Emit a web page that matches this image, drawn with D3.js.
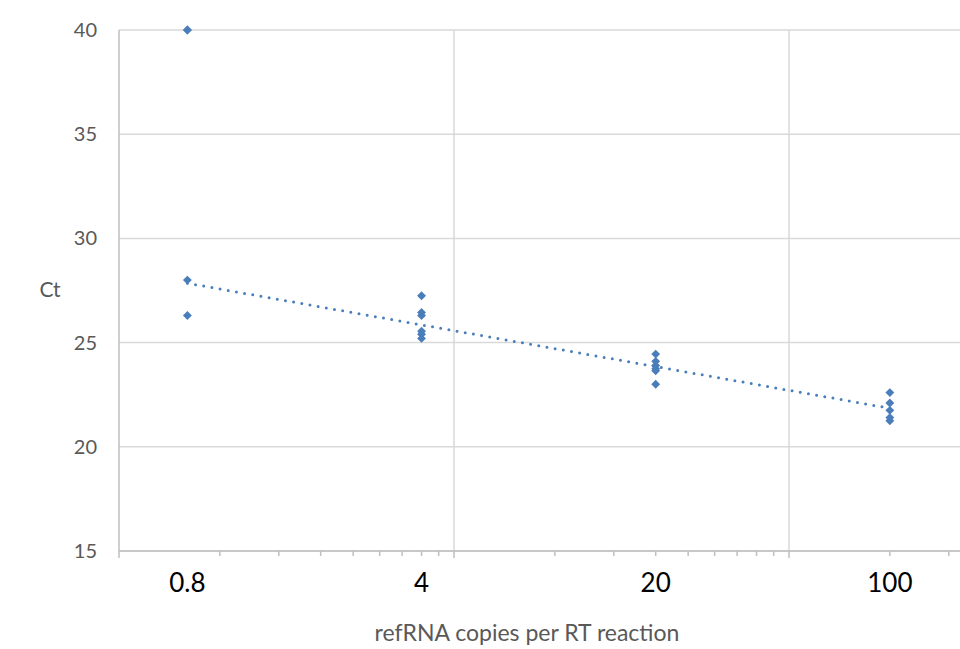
<!DOCTYPE html>
<html>
<head>
<meta charset="utf-8">
<script src="https://cdn.jsdelivr.net/npm/d3@7"></script>
<style>
  body { margin: 0; background: #fff; }
  svg { display: block; }
</style>
</head>
<body>
<script>
var width = 960;
var height = 649;

// refRNA copies per RT reaction and the Ct read for each replicate
var copies = [0.8, 0.8, 0.8, 0.8,
  4, 4, 4, 4, 4, 4,
  20, 20, 20, 20, 20, 20,
  100, 100, 100, 100, 100];
var ctValues = [40, 40, 28.0, 26.3,
  27.25, 26.45, 26.3, 25.55, 25.4, 25.2,
  24.45, 24.1, 23.9, 23.75, 23.65, 23.0,
  22.6, 22.1, 21.75, 21.4, 21.25];

// logarithmic trendline, end points
var trendX = [0.8, 100];
var trendY = [27.85, 21.85];

var xTickLabels = [0.8, 4, 20, 100];
var yTicks = [15, 20, 25, 30, 35, 40];
var majorX = [0.5, 5, 50, 500];
var minorX = [];
[0.5, 5, 50].forEach(function (b) {
  for (var k = 2; k <= 9; k++) minorX.push(b * k);
});

var color = "#4a7ebb";
var gridColor = "#d9d9d9";
var textColor = "#595959";
var font = "Lato, sans-serif";

var x = d3.scaleLog().domain([0.5, 500]).range([119, 119 + 3 * 335]);
var y = d3.scaleLinear().domain([15, 40]).range([551, 30]);

var svg = d3.select("body").append("svg")
  .attr("width", width)
  .attr("height", height);

// horizontal gridlines
svg.selectAll("line.hgrid")
  .data(yTicks)
  .enter()
  .append("line")
  .attr("class", "hgrid")
  .attr("x1", x(0.5))
  .attr("x2", width)
  .attr("y1", function (d) { return y(d); })
  .attr("y2", function (d) { return y(d); })
  .attr("stroke", gridColor)
  .attr("stroke-width", 1.5);

// vertical gridlines at major units
svg.selectAll("line.vgrid")
  .data(majorX.slice(1))
  .enter()
  .append("line")
  .attr("class", "vgrid")
  .attr("x1", function (d) { return x(d); })
  .attr("x2", function (d) { return x(d); })
  .attr("y1", y(40))
  .attr("y2", y(15))
  .attr("stroke", gridColor)
  .attr("stroke-width", 1.5);

// axis lines
svg.append("line")
  .attr("x1", x(0.5)).attr("x2", x(0.5))
  .attr("y1", y(40)).attr("y2", y(15))
  .attr("stroke", "#bfbfbf").attr("stroke-width", 1.5);
svg.append("line")
  .attr("x1", x(0.5)).attr("x2", width)
  .attr("y1", y(15)).attr("y2", y(15))
  .attr("stroke", "#bfbfbf").attr("stroke-width", 1.5);

// x tick marks
svg.selectAll("line.xtick")
  .data(majorX.concat(minorX))
  .enter()
  .append("line")
  .attr("class", "xtick")
  .attr("x1", function (d) { return x(d); })
  .attr("x2", function (d) { return x(d); })
  .attr("y1", y(15))
  .attr("y2", function (d) { return y(15) + (majorX.indexOf(d) >= 0 ? 7 : 5); })
  .attr("stroke", "#bfbfbf")
  .attr("stroke-width", 1.5);

// y tick labels
svg.selectAll("text.ylab")
  .data(yTicks)
  .enter()
  .append("text")
  .attr("class", "ylab")
  .text(function (d) { return d; })
  .attr("x", 97)
  .attr("y", function (d) { return y(d) + 7; })
  .attr("text-anchor", "end")
  .attr("font-family", font)
  .attr("font-size", "20px")
  .attr("fill", textColor);

// x tick labels
svg.selectAll("text.xlab")
  .data(xTickLabels)
  .enter()
  .append("text")
  .attr("class", "xlab")
  .text(function (d) { return d; })
  .attr("x", function (d) { return x(d); })
  .attr("y", 592)
  .attr("text-anchor", "middle")
  .attr("font-family", font)
  .attr("font-size", "26px")
  .attr("fill", "#000");

// axis titles
svg.append("text")
  .text("Ct")
  .attr("x", 50)
  .attr("y", 297)
  .attr("text-anchor", "middle")
  .attr("font-family", font)
  .attr("font-size", "21px")
  .attr("fill", textColor);
svg.append("text")
  .text("refRNA copies per RT reaction")
  .attr("x", 527)
  .attr("y", 641)
  .attr("text-anchor", "middle")
  .attr("font-family", font)
  .attr("font-size", "23px")
  .attr("fill", textColor);

// trendline
var line = d3.line()
  .x(function (d) { return x(d[0]); })
  .y(function (d) { return y(d[1]); });
svg.append("path")
  .attr("d", line(d3.zip(trendX, trendY)))
  .attr("fill", "none")
  .attr("stroke", color)
  .attr("stroke-width", 3)
  .attr("stroke-linecap", "round")
  .attr("stroke-dasharray", "0 8.3");

// points
var diamond = d3.symbol().type(d3.symbolDiamond2).size(50);
svg.selectAll("path.pt")
  .data(d3.zip(copies, ctValues))
  .enter()
  .append("path")
  .attr("class", "pt")
  .attr("d", diamond)
  .attr("transform", function (d) { return "translate(" + x(d[0]) + "," + y(d[1]) + ")"; })
  .attr("fill", color);
</script>
</body>
</html>
